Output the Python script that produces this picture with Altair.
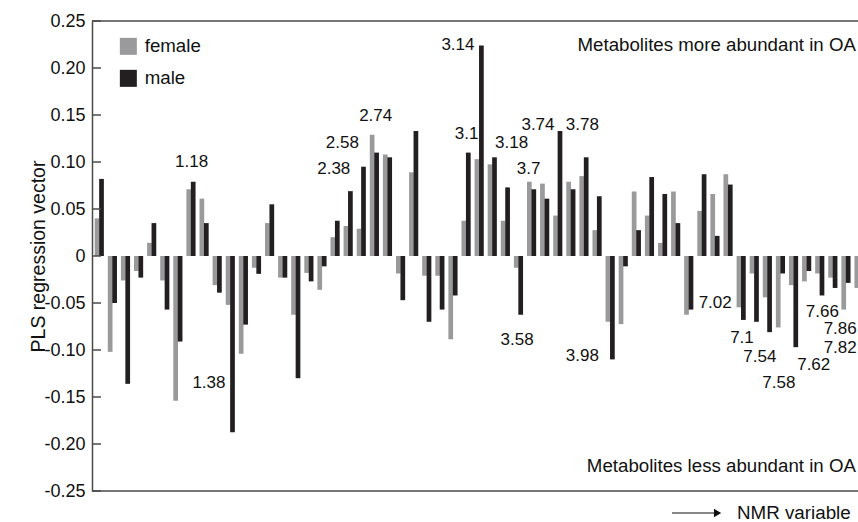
import altair as alt
import pandas as pd

# ---------------- data ----------------
female = [0.040, -0.102, -0.026, -0.016, 0.014, -0.026, -0.154, 0.071, 0.061, -0.031,
          -0.052, -0.104, -0.0125, 0.035, -0.023, -0.0625, -0.018, -0.036, 0.020, 0.032,
          0.029, 0.129, 0.108, -0.0186, 0.089, -0.021, -0.021, -0.0886, 0.0375, 0.103,
          0.0975, 0.0375, -0.0125, 0.079, 0.077, 0.043, 0.079, 0.085, 0.0275, -0.070,
          -0.0725, 0.0686, 0.043, 0.014, 0.0686, -0.0625, 0.048, 0.066, 0.087, -0.0546,
          -0.0186, -0.044, -0.076, -0.031, -0.027, -0.0186, -0.023, -0.057, -0.034]
male = [0.082, -0.050, -0.136, -0.023, 0.035, -0.057, -0.091, 0.079, 0.035, -0.039,
        -0.1875, -0.073, -0.019, 0.055, -0.023, -0.130, -0.027, -0.011, 0.0375, 0.069,
        0.095, 0.110, 0.105, -0.047, 0.133, -0.070, -0.057, -0.042, 0.110, 0.224,
        0.105, 0.073, -0.0625, 0.071, 0.061, 0.133, 0.071, 0.105, 0.0636, -0.110,
        -0.011, 0.0275, 0.084, 0.066, 0.035, -0.057, 0.087, 0.0214, 0.076, -0.068,
        -0.070, -0.081, -0.0186, -0.097, -0.016, -0.042, -0.034, -0.0286, -0.030]

# peak annotations (NMR chemical shift), positioned in (variable index, value) units
label_text = ["1.18", "1.38", "2.38", "2.58", "2.74", "3.14", "3.1", "3.18", "3.58",
              "3.7", "3.74", "3.78", "3.98", "7.02", "7.1", "7.54", "7.58", "7.62",
              "7.66", "7.86", "7.82"]
label_x = [8.40, 9.72, 19.25, 19.91, 22.45, 28.73, 29.39, 32.83, 33.25,
           34.13, 34.84, 38.23, 38.23, 48.37, 50.41, 51.78, 53.23, 55.89,
           56.55, 57.91, 57.91]
label_y = [0.1003, -0.1348, 0.0922, 0.1205, 0.149, 0.2245, 0.1298, 0.1205, -0.0894,
           0.0922, 0.1394, 0.1394, -0.1064, -0.0497, -0.0876, -0.1071, -0.1354, -0.116,
           -0.0593, -0.0777, -0.0975]

y_ticks = [-0.25, -0.20, -0.15, -0.10, -0.05, 0.0, 0.05, 0.10, 0.15, 0.20, 0.25]
sexes = ["female", "male"]
colors = ["#9a9a9c", "#231f20"]

X_MIN, X_MAX = 0.794, 59.27
FONT = "Liberation Sans"

rows = []
for i, (f, m) in enumerate(zip(female, male)):
    k = i + 1
    rows.append({"var": k, "sex": "female", "value": f, "x0": k, "x1": k + 0.36})
    rows.append({"var": k, "sex": "male", "value": m, "x0": k + 0.34, "x1": k + 0.70})
bars_df = pd.DataFrame(rows)
labels_df = pd.DataFrame({"text": label_text, "x": label_x, "y": label_y})
frame_df = pd.DataFrame({"f": [0.25, -0.25]})
ticks_df = pd.DataFrame({"t": y_ticks})

xscale = alt.Scale(domain=[X_MIN, X_MAX], nice=False, zero=False)
yscale = alt.Scale(domain=[-0.25, 0.25], nice=False, zero=False)

yaxis = alt.Axis(values=y_ticks,
                 labelExpr="datum.value == 0 ? '0' : (datum.value < 0 ? '-' : '') + format(abs(datum.value), '.2f')",
                 ticks=False, grid=False, domain=True,
                 domainColor="#4a4a4a", domainWidth=1.5,
                 labelFont=FONT, labelFontSize=18, labelColor="#111111",
                 labelPadding=7,
                 title="PLS regression vector", titleFont=FONT,
                 titleFontSize=19.5, titleFontWeight="normal", titleColor="#111111",
                 titleX=-54, titleY=235, titleAngle=270,
                 titleAlign="center", titleBaseline="middle")


def Y(field):
    return alt.Y(field, scale=yscale, axis=yaxis)


bars = alt.Chart(bars_df).mark_bar(clip=True).encode(
    x=alt.X("x0:Q", scale=xscale, axis=None),
    x2="x1:Q",
    y=Y("value:Q"),
    y2=alt.datum(0),
    color=alt.Color("sex:N", scale=alt.Scale(domain=sexes, range=colors),
                    legend=alt.Legend(title=None, orient="none", legendX=27, legendY=16,
                                      symbolType="square", symbolSize=289,
                                      symbolStrokeWidth=0, symbolOpacity=1,
                                      labelFont=FONT, labelFontSize=18.7,
                                      labelColor="#111111", labelOffset=7,
                                      rowPadding=12)),
)

frame = alt.Chart(frame_df).mark_rule(color="#4a4a4a", strokeWidth=1.5).encode(
    y=Y("f:Q"),
    x=alt.value(0),
    x2=alt.value(766),
)

ticks = alt.Chart(ticks_df).mark_rule(color="#4a4a4a", strokeWidth=1.5).encode(
    y=Y("t:Q"),
    x=alt.value(0),
    x2=alt.value(9),
)

labels = alt.Chart(labels_df).mark_text(font=FONT, fontSize=17, color="#111111",
                                        align="center", baseline="middle").encode(
    x=alt.X("x:Q", scale=xscale, axis=None),
    y=Y("y:Q"),
    text="text:N",
)

notes_df = pd.DataFrame({
    "text": ["Metabolites more abundant in OA", "Metabolites less abundant in OA"],
    "x": [59.11, 59.11],
    "y": [0.2245, -0.2234],
})
notes = alt.Chart(notes_df).mark_text(font=FONT, fontSize=18.7, color="#111111",
                                      align="right", baseline="middle").encode(
    x=alt.X("x:Q", scale=xscale, axis=None),
    y=Y("y:Q"),
    text="text:N",
)

arrow_df = pd.DataFrame({"x": [45.07], "x2": [48.55], "y": [-0.2734]})
arrow_line = alt.Chart(arrow_df).mark_rule(color="#111111", strokeWidth=1.2).encode(
    x=alt.X("x:Q", scale=xscale, axis=None),
    x2="x2:Q",
    y=Y("y:Q"),
)
arrow_head = alt.Chart(arrow_df).mark_point(shape="triangle-right", filled=True,
                                            color="#111111", size=70, opacity=1).encode(
    x=alt.X("x2:Q", scale=xscale, axis=None),
    y=Y("y:Q"),
)
xlabel_df = pd.DataFrame({"text": ["NMR variable"], "x": [50.03], "y": [-0.2734]})
xlabel = alt.Chart(xlabel_df).mark_text(font=FONT, fontSize=18.8, color="#111111",
                                        align="left", baseline="middle").encode(
    x=alt.X("x:Q", scale=xscale, axis=None),
    y=Y("y:Q"),
    text="text:N",
)

chart = alt.layer(bars, frame, ticks, labels, notes, arrow_line, arrow_head, xlabel).properties(
    width=766, height=470,
    autosize=alt.AutoSizeParams(type="none"),
    padding={"left": 92, "top": 21, "right": 0, "bottom": 31},
    background="white",
).configure_view(stroke=None)

chart.save("out.html", embed_options={"renderer": "svg", "actions": False})
